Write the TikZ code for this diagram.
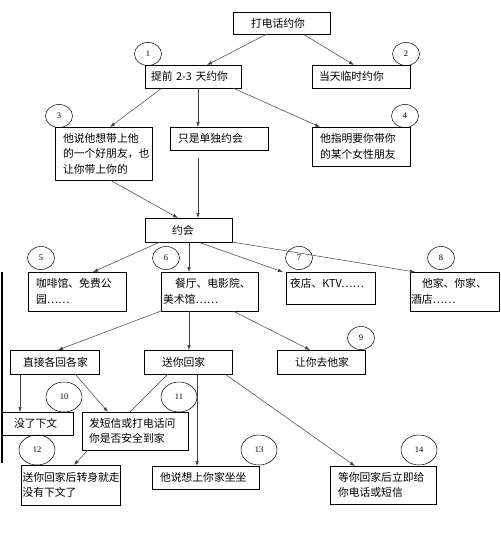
\documentclass[tikz,border=0pt]{standalone}
\usepackage{fontspec}
\setmainfont{Noto Sans CJK SC}
\newfontfamily\numfont{Liberation Serif}
\usetikzlibrary{arrows.meta,shapes.geometric,calc}
\tikzset{
  box/.style={draw=black, line width=0.7pt, rectangle, inner ysep=0pt, outer sep=0pt,
    align=left, font=\fontsize{10.8}{15.5}\selectfont},
  bx/.style n args={3}{inner xsep=#1pt, text width=#2pt, minimum height=#3pt},
  num/.style={draw=black, line width=0.5pt, ellipse, inner sep=0pt, minimum width=27pt,
    minimum height=23pt, font=\numfont\fontsize{8.5}{8.5}\selectfont},
  bignum/.style={num, minimum width=36pt, minimum height=30pt},
  con/.style={draw=black!75, line width=0.5pt},
  arr/.style={con, -{Latex[length=5pt,width=3.5pt]}},
}
\begin{document}
\begin{tikzpicture}[x=1pt,y=-1pt]
\useasboundingbox (0,0) rectangle (500,548);
\fill[white] (0,0) rectangle (500,548);

% boxes
\node[box, bx={18}{61}{22}] (call) at (281.5,23) {打电话约你};
\node[box, bx={6}{84}{23}] (adv) at (193,76.5) {提前 2-3 天约你};
\node[box, bx={7}{84}{23}] (same) at (361,76.5) {当天临时约你};
\node[box, bx={8}{81}{53}] (friend) at (103.5,153.5) {他说他想带上他\\的一个好朋友，也\\让你带上你的};
\node[box, bx={8}{82}{23}] (alone) at (219,138.5) {只是单独约会};
\node[box, bx={8}{82}{39}] (female) at (361,146.5) {他指明要你带你\\的某个女性朋友};
\node[box, bx={27}{33}{24}] (date) at (188.5,230) {约会};
\node[box, bx={8}{82}{39}] (cafe) at (77,291.5) {咖啡馆、免费公\\园……};
\node[box, bx={2}{93}{39}] (rest) at (209.5,291.5) {\hspace*{12pt}餐厅、电影院、\\美术馆……};
\node[box, bx={4}{81}{32}, text depth=11pt] (club) at (330.5,288) {夜店、KTV……};
\node[box, bx={1}{87.5}{39}] (home) at (454.75,291.5) {\hspace*{11pt}他家、你家、\\酒店……};
\node[box, bx={13}{63}{24}] (direct) at (54.5,362) {直接各回各家};
\node[box, bx={18}{52}{24}] (send) at (188,362) {送你回家};
\node[box, bx={18}{52}{24}] (his) at (321,362) {让你去他家};
\node[box, bx={12}{47}{23}] (none) at (37.5,423.5) {没了下文};
\node[box, bx={7}{92}{38}] (sms) at (135,431) {发短信或打电话问\\你是否安全到家};
\node[box, bx={1.5}{96}{40}] (leave) at (70.5,485) {送你回家后转身就走\\没有下文了};
\node[box, bx={8}{91}{23}] (sit) at (205.5,477.5) {他说想上你家坐坐};
\node[box, bx={8}{90}{38}] (wait) at (383,485) {等你回家后立即给\\你电话或短信};

% numbers
\node[num] (n1) at (148,54) {1};
\node[num] (n2) at (406,54) {2};
\node[num] (n3) at (59,116) {3};
\node[num] (n4) at (405,116) {4};
\node[num] (n5) at (41,258) {5};
\node[num] (n6) at (166,258) {6};
\node[num] (n7) at (299,258) {7};
\node[num] (n8) at (441,258) {8};
\node[num] (n9) at (361,338) {9};
\node[bignum] (n10) at (64,397) {10};
\node[bignum] (n11) at (179,397) {11};
\node[bignum] (n12) at (37,450) {12};
\node[bignum] (n13) at (259,450) {13};
\node[bignum] (n14) at (419,450) {14};

% connectors
\draw[arr] ([xshift=-14.5pt]call.south) -- ([xshift=14pt]adv.north);
\draw[arr] ([xshift=21.5pt]call.south) -- ([xshift=-7pt]same.north);
\draw[arr] ([xshift=-31pt]adv.south) -- ([xshift=6.5pt]friend.north);
\draw[arr] ([xshift=5pt]adv.south) -- ([xshift=-21pt]alone.north);
\draw[arr] ([xshift=40pt]adv.south) -- ([xshift=-41pt]female.north);
\draw[arr] ([xshift=-21pt,yshift=-8pt]alone.south) -- ([xshift=9.5pt]date.north);
\draw[arr] ([xshift=6.5pt]friend.south) -- ([xshift=-10.5pt]date.north);
\draw[arr] ([xshift=-28.5pt]date.south) -- ([xshift=16pt]cafe.north);
\draw[arr] ([xshift=0.5pt]date.south) -- ([xshift=-20.5pt]rest.north);
\draw[arr] ([xshift=9.5pt]date.south) -- ([xshift=-3pt]club.north west);
\draw[arr] (date.south east) -- ([xshift=5pt]home.north west);
\draw[arr] (rest.south west) -- ([xshift=3.5pt]direct.north);
\draw[arr] ([xshift=-20.5pt]rest.south) -- ([xshift=1pt]send.north);
\draw[arr] ([xshift=23.5pt]rest.south) -- ([xshift=-11pt]his.north);
\draw[arr] ([xshift=-34.5pt]direct.south) -- ([xshift=-17.5pt]none.north);
\draw[arr] ([xshift=20.5pt]direct.south) -- ([xshift=-27pt]sms.north);
\draw[con] ([xshift=-20pt]send.south) -- ([xshift=-5pt]sms.north);
\draw[arr] ([xshift=9pt]send.south) -- ([xshift=-8.5pt]sit.north);
\draw[arr] ([xshift=37pt]send.south) -- ([xshift=-28pt]wait.north);
\draw[arr] ([xshift=-47pt]sms.south) -- ([xshift=3.5pt]leave.north);

% left edge line
\draw[black, line width=1.3pt] (2,272) -- (2,463);
\end{tikzpicture}
\end{document}
